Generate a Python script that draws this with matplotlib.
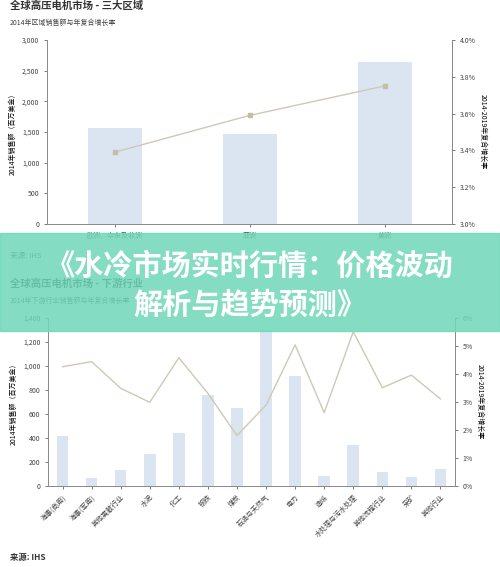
import matplotlib

matplotlib.use("Agg")
import matplotlib.pyplot as plt
from matplotlib.ticker import FuncFormatter, PercentFormatter

plt.rcParams["font.family"] = ["Noto Sans CJK SC", "DejaVu Sans"]

BAR = "#dbe5f1"
LINE = "#cdc9b6"
AX = "#888888"

regions = ["欧洲、中东及非洲", "亚洲", "美洲"]
region_sales = [1570, 1470, 2640]
region_cagr = [3.39, 3.59, 3.75]

sectors = ["海事(商用)", "海事(军用)", "其他离散行业", "水泥", "化工", "钢铁", "煤炭",
           "石油与天然气", "电力", "造纸", "水处理与污水处理", "其他流程行业", "采矿", "其他行业"]
sector_sales = [420, 65, 130, 270, 445, 760, 650, 1300, 920, 85, 345, 115, 75, 145]
sector_cagr = [4.26, 4.44, 3.49, 2.99, 4.58, 3.31, 1.80, 2.89, 5.04, 2.62, 5.51, 3.51, 3.96, 3.11]

fig = plt.figure(figsize=(5.0, 5.67), dpi=100)
W, H = 500, 567


def frame(ax):
    ax.spines["top"].set_visible(False)
    for s in ["left", "right", "bottom"]:
        ax.spines[s].set_color(AX)
        ax.spines[s].set_linewidth(0.6)
    ax.tick_params(labelsize=5, colors="#444", length=2, width=0.5)


# ---- top chart
ax = fig.add_axes([47 / W, 1 - 224 / H, 405 / W, 184 / H])
x = range(len(regions))
ax.bar(x, region_sales, width=0.4, color=BAR)
ax.set_ylim(0, 3000)
ax.set_xlim(-0.5, 2.5)
ax.set_yticks(range(0, 3001, 500))
ax.yaxis.set_major_formatter(FuncFormatter(lambda v, p: f"{int(v):,}"))
ax.set_xticks(list(x))
ax.set_xticklabels(regions)
ax.set_ylabel("2014年销售额（百万美金）", fontsize=5)
frame(ax)
ax2 = ax.twinx()
ax2.plot(x, region_cagr, color=LINE, lw=1, marker="s", ms=3, mfc="#c0c0a8", mec="#c0c0a8")
ax2.set_ylim(3.0, 4.0)
ax2.set_yticks([3.0, 3.2, 3.4, 3.6, 3.8, 4.0])
ax2.yaxis.set_major_formatter(FuncFormatter(lambda v, p: f"{v:.1f}%"))
ax2.set_ylabel("2014-2019年复合增长率", fontsize=5, rotation=270, labelpad=8)
frame(ax2)
fig.text(10 / W, 1 - 6 / H, "全球高压电机市场 - 三大区域", fontsize=7.5, weight="bold", color="#333", va="center")
fig.text(10 / W, 1 - 23 / H, "2014年区域销售额与年复合增长率", fontsize=5, color="#444", va="center")
fig.text(10 / W, 1 - 256 / H, "来源: IHS", fontsize=5.5, color="#444", va="center")

# ---- bottom chart
ax = fig.add_axes([48 / W, 1 - 486 / H, 407 / W, 168 / H])
x = range(len(sectors))
ax.bar(x, sector_sales, width=0.4, color=BAR)
ax.set_ylim(0, 1400)
ax.set_xlim(-0.5, len(sectors) - 0.5)
ax.set_yticks(range(0, 1401, 200))
ax.yaxis.set_major_formatter(FuncFormatter(lambda v, p: f"{int(v):,}"))
ax.set_xticks(list(x))
ax.set_xticklabels(sectors, rotation=45, ha="right", rotation_mode="anchor")
ax.set_ylabel("2014年销售额（百万美金）", fontsize=5)
frame(ax)
ax2 = ax.twinx()
ax2.plot(x, sector_cagr, color=LINE, lw=1)
ax2.set_ylim(0, 6)
ax2.yaxis.set_major_formatter(PercentFormatter(decimals=0))
ax2.set_ylabel("2014-2019年复合增长率", fontsize=5, rotation=270, labelpad=8)
frame(ax2)
fig.text(10 / W, 1 - 284 / H, "全球高压电机市场 - 下游行业", fontsize=7.5, weight="bold", color="#333", va="center")
fig.text(10 / W, 1 - 301 / H, "2014年下游行业销售额与年复合增长率", fontsize=5, color="#444", va="center")
fig.text(10 / W, 1 - 557 / H, "来源: IHS", fontsize=6, weight="bold", color="#333", va="center")

# ---- banner overlay
fig.patches.append(plt.Rectangle((0, 1 - 331 / H), 1, 98 / H, transform=fig.transFigure,
                                 color="#6fd8b8", alpha=0.85, zorder=10))
fig.text(0.5, 1 - 266 / H, "《水冷市场实时行情：价格波动", fontsize=21, weight="bold",
         color="white", ha="center", va="center", zorder=11)
fig.text(0.5, 1 - 305 / H, "解析与趋势预测》", fontsize=21, weight="bold",
         color="white", ha="center", va="center", zorder=11)

fig.savefig("out.png", dpi=100)
